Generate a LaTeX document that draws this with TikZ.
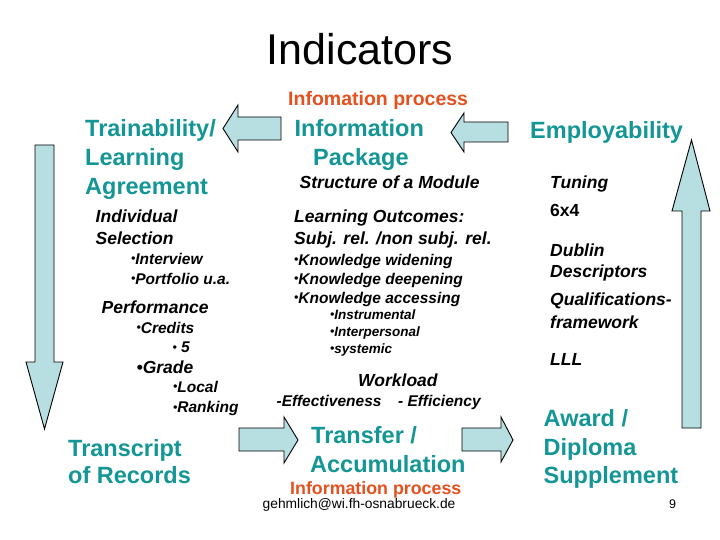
\documentclass[tikz,border=0pt]{standalone}
\usepackage{fontspec}
\setmainfont{Liberation Sans}
\definecolor{arrowfill}{RGB}{183,222,225}
\definecolor{tealtext}{RGB}{20,150,150}
\definecolor{oranget}{RGB}{228,80,30}
\newcommand\smbul{\raisebox{0.08em}{\fontsize{12}{12}\selectfont\textbullet}}
\tikzset{
  t/.style={inner sep=0pt, anchor=base west},
  bigteal/.style={t, text=tealtext, font=\fontsize{23.5}{28}\selectfont\bfseries},
  proc/.style={t, text=oranget, font=\fontsize{#1}{20}\selectfont\bfseries},
  subhead/.style={t, font=\fontsize{17.5}{21}\selectfont\bfseries\itshape},
  bul/.style={t, font=\fontsize{15.5}{19}\selectfont\bfseries\itshape},
  subbul/.style={t, font=\fontsize{13.5}{16}\selectfont\bfseries\itshape},
  fatarrow/.style={draw=black, line width=0.9pt, fill=arrowfill, line join=miter}
}
\begin{document}
\begin{tikzpicture}[x=1pt,y=-1pt]
\useasboundingbox (0,0) rectangle (720,540);
\fill[white] (0,0) rectangle (720,540);
% arrows
\draw[fatarrow] (223,128.5) -- (238,105) -- (238,117) -- (281,117) -- (281,140) -- (238,140) -- (238,152) -- cycle;
\draw[fatarrow] (451,132.5) -- (464,113) -- (464,122) -- (508,122) -- (508,142) -- (464,142) -- (464,152) -- cycle;
\draw[fatarrow] (35,145) -- (54,145) -- (54,362) -- (63,362) -- (44.5,429) -- (26,362) -- (35,362) -- cycle;
\draw[fatarrow] (682,428) -- (682,211) -- (672,211) -- (691.5,140) -- (710,211) -- (701,211) -- (701,428) -- cycle;
\draw[fatarrow] (239,428) -- (284,428) -- (284,417) -- (298,440) -- (284,463) -- (284,451) -- (239,451) -- cycle;
\draw[fatarrow] (462,428) -- (501,428) -- (501,417) -- (513,440) -- (501,462) -- (501,451) -- (462,451) -- cycle;
% title
\node[anchor=base, inner sep=0pt, font=\fontsize{43}{50}\selectfont] (title) at (360,65) {Indicators};
\node[proc=19.5] (proc1) at (288,106) {Infomation process};
% left column
\node[bigteal] (tr1) at (85,137) {Trainability/};
\node[bigteal] (tr2) at (85,166) {Learning};
\node[bigteal] (tr3) at (85,195) {Agreement};
\node[subhead] (ind1) at (95.5,222.5) {Individual};
\node[subhead] (ind2) at (95.5,244) {Selection};
\node[bul] (iv) at (131,264) {\smbul Interview};
\node[bul] (pf) at (131,284) {\smbul Portfolio u.a.};
\node[subhead] (perf) at (101.5,313) {Performance};
\node[bul] (cr) at (136.5,333) {\smbul Credits};
\node[bul] (five) at (172.5,352.5) {\smbul\ 5};
\node[subhead] (gr) at (136.5,373) {\textbullet Grade};
\node[bul] (loc) at (173,392) {\smbul Local};
\node[bul] (rk) at (173,412.5) {\smbul Ranking};
\node[bigteal] (tor1) at (68,456.5) {Transcript};
\node[bigteal] (tor2) at (68,483) {of Records};
% middle column
\node[bigteal] (ip1) at (294.5,137) {Information};
\node[bigteal] (ip2) at (313,165.5) {Package};
\node[subhead] (som) at (299.5,189) {Structure of a Module};
\node[subhead] (lo1) at (294,222.5) {Learning Outcomes:};
\node[subhead] (lo2) at (294,244.5) {Subj. rel. /non subj. rel.};
\node[bul] (kw) at (294,265) {\smbul Knowledge widening};
\node[bul] (kd) at (294,284) {\smbul Knowledge deepening};
\node[bul] (ka) at (294,303) {\smbul Knowledge accessing};
\node[subbul] (ins) at (330,319.5) {\smbul Instrumental};
\node[subbul] (int) at (330,336.5) {\smbul Interpersonal};
\node[subbul] (sys) at (330,353.5) {\smbul systemic};
\node[subhead] (wl) at (358,386) {Workload};
\node[bul] (eff1) at (276.5,406.5) {-Effectiveness};
\node[bul] (eff2) at (398,406.5) {- Efficiency};
\node[bigteal] (ta1) at (311,443) {Transfer /};
\node[bigteal] (ta2) at (310,472.5) {Accumulation};
\node[proc=17.8] (proc2) at (290,494) {Information process};
\node[t, font=\fontsize{13.8}{16}\selectfont] (mail) at (262.5,508) {gehmlich@wi.fh-osnabrueck.de};
% right column
\node[bigteal] (emp) at (530,139) {Employability};
\node[subhead] (tun) at (550,189) {Tuning};
\node[t, font=\fontsize{17.5}{21}\selectfont\bfseries] (sx) at (550,216.5) {6x4};
\node[subhead] (dub1) at (550,256.5) {Dublin};
\node[subhead] (dub2) at (550,277.5) {Descriptors};
\node[subhead] (qf1) at (550,305) {Qualifications-};
\node[subhead] (qf2) at (550,328) {framework};
\node[subhead] (lll) at (550,365) {LLL};
\node[bigteal] (aw1) at (543.5,426) {Award /};
\node[bigteal] (aw2) at (543.5,455) {Diploma};
\node[bigteal] (aw3) at (543.5,483.5) {Supplement};
\node[t, font=\fontsize{12.5}{15}\selectfont] (pg) at (669,508) {9};
\end{tikzpicture}
\end{document}
